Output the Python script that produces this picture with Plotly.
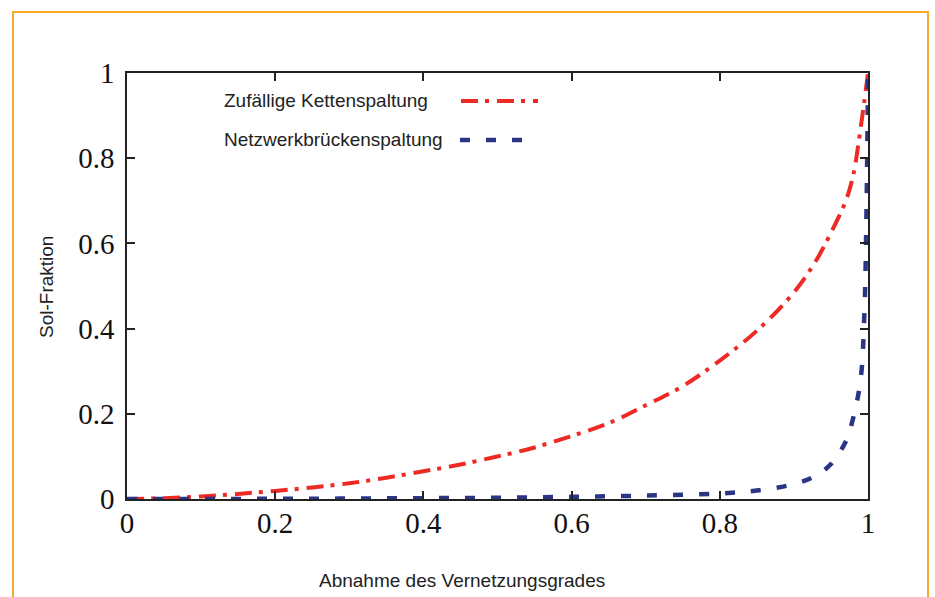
import plotly.graph_objects as go

# Data
x_random = [0, 0.05, 0.1, 0.15, 0.2, 0.25, 0.3, 0.35, 0.4, 0.45, 0.5, 0.55, 0.6,
            0.65, 0.7, 0.75, 0.8, 0.85, 0.9, 0.93, 0.95, 0.97, 0.98, 0.99, 1.0]
y_random = [0, 0.002, 0.006, 0.012, 0.019, 0.027, 0.037, 0.05, 0.065, 0.081, 0.10,
            0.121, 0.148, 0.178, 0.22, 0.265, 0.325, 0.395, 0.485, 0.56, 0.625, 0.70,
            0.76, 0.87, 1.0]

x_network = [0, 0.1, 0.2, 0.3, 0.4, 0.5, 0.6, 0.7, 0.8, 0.85, 0.9, 0.93, 0.95, 0.97,
             0.98, 0.99, 0.995, 0.998, 1.0]
y_network = [0, 0, 0.0005, 0.001, 0.002, 0.003, 0.005, 0.008, 0.013, 0.02, 0.035, 0.055,
             0.082, 0.135, 0.19, 0.28, 0.43, 0.68, 1.0]

series_names = ["Zufällige Kettenspaltung", "Netzwerkbrückenspaltung"]
tick_vals = [0, 0.2, 0.4, 0.6, 0.8, 1]
tick_text = ["0", "0.2", "0.4", "0.6", "0.8", "1"]
x_title = "Abnahme des Vernetzungsgrades"
y_title = "Sol-Fraktion"

RED = "#ee2a24"
BLUE = "#2a3585"
ORANGE = "#f7a92a"
AXIS = "#222222"
RED_DASH = "17px,7px,4px,8px"
BLUE_DASH = "10px,16px"

fig = go.Figure()
fig.add_trace(go.Scatter(x=x_random, y=y_random, mode="lines", name=series_names[0],
                         line=dict(color=RED, width=4, dash=RED_DASH, shape="spline")))
fig.add_trace(go.Scatter(x=x_network, y=y_network, mode="lines", name=series_names[1],
                         line=dict(color=BLUE, width=4.5, dash=BLUE_DASH, shape="spline")))

axis_common = dict(
    range=[0, 1], tickvals=tick_vals, ticktext=tick_text,
    ticks="inside", ticklen=8, tickwidth=1.5, tickcolor=AXIS,
    showline=True, linecolor=AXIS, linewidth=1.5, mirror="ticks",
    showgrid=False, zeroline=False,
    tickfont=dict(family="Liberation Serif, Times New Roman, serif", size=29, color="#111"),
)
fig.update_xaxes(**axis_common, ticklabelstandoff=-3)
fig.update_yaxes(**axis_common, ticklabelstandoff=5)

# Plot area geometry: l=127, r=67, t=73, b=98 -> 741 x 426
W, H = 935, 597
L, R, T, B = 127, 67, 73, 98
pw, ph = W - L - R, H - T - B

def px_x(p):
    return (p - L) / pw

def px_y(p):
    return (H - B - p) / ph

shapes = [
    # orange frame
    dict(type="rect", xref="paper", yref="paper",
         x0=px_x(13), x1=px_x(928), y0=px_y(640), y1=px_y(12),
         line=dict(color=ORANGE, width=2), layer="below"),
    # legend samples
    dict(type="line", xref="paper", yref="paper",
         x0=px_x(461), x1=px_x(538), y0=px_y(101), y1=px_y(101),
         line=dict(color=RED, width=4, dash=RED_DASH)),
    dict(type="line", xref="paper", yref="paper",
         x0=px_x(460), x1=px_x(524), y0=px_y(140), y1=px_y(140),
         line=dict(color=BLUE, width=4.5, dash=BLUE_DASH)),
]

label_font = dict(family="Liberation Sans, Arial, sans-serif", size=19, color="#222")
annotations = [
    dict(text=series_names[0], xref="paper", yref="paper", x=px_x(222), y=px_y(101),
         xanchor="left", yanchor="middle", showarrow=False, font=label_font),
    dict(text=series_names[1], xref="paper", yref="paper", x=px_x(222), y=px_y(139),
         xanchor="left", yanchor="middle", showarrow=False, font=label_font),
    dict(text=x_title, xref="paper", yref="paper", x=px_x(462), y=px_y(580),
         xanchor="center", yanchor="middle", showarrow=False, font=label_font),
    dict(text=y_title, xref="paper", yref="paper", x=px_x(46), y=px_y(287),
         xanchor="center", yanchor="middle", showarrow=False, textangle=-90, font=label_font),
]

fig.update_layout(
    width=W, height=H,
    margin=dict(l=L, r=R, t=T, b=B),
    paper_bgcolor="white", plot_bgcolor="white",
    showlegend=False,
    shapes=shapes, annotations=annotations,
)

fig.write_html("out.html", config={"displayModeBar": False},
               post_script="document.body.style.margin='0';document.body.style.overflow='hidden';")
